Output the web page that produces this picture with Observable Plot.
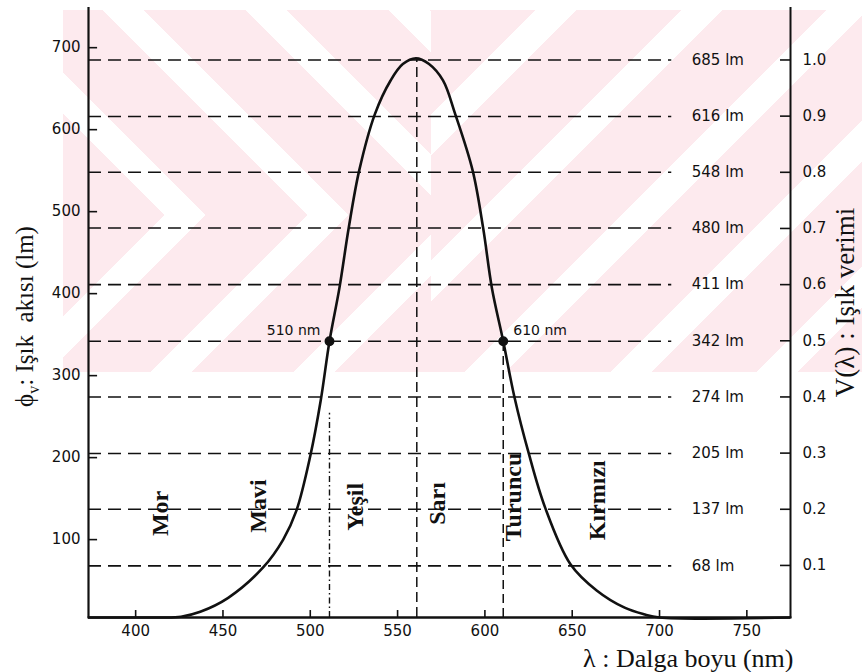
<!DOCTYPE html>
<html>
<head>
<meta charset="utf-8">
<script src="https://cdn.jsdelivr.net/npm/d3@7"></script>
<script src="https://cdn.jsdelivr.net/npm/@observablehq/plot@0.6"></script>
<style>
  body { margin: 0; background: #fff; }
  #wrap { position: relative; width: 862px; height: 672px; overflow: hidden; }
  .wm { position: absolute; }
  #chart { position: absolute; left: 0; top: 0; }
</style>
</head>
<body>
<div id="wrap">
  <div class="wm" style="left:63px;top:10px;width:368px;height:205px;background:repeating-linear-gradient(45deg,#fdeaee 0 72px,#ffffff 72px 101px);"></div>
  <div class="wm" style="left:63px;top:215px;width:368px;height:157px;background:repeating-linear-gradient(135deg,#fdeaee 0 72px,#ffffff 72px 101px);"></div>
  <div class="wm" style="left:431px;top:10px;width:431px;height:362px;background:repeating-linear-gradient(135deg,#fdeaee 0 74px,#ffffff 74px 103px);"></div>
  <div id="chart"></div>
</div>
<script>
// ---- data ----
const wavelength = [373, 400, 415, 426, 437, 453, 473, 484.5, 492, 500, 506, 511, 516.7, 522, 528, 537, 546, 553, 560.5, 568, 576, 583, 593, 599, 604, 610.5, 617, 625, 634.5, 649, 664, 680, 691, 700, 775];
const luminousFlux = [5, 5, 5, 6, 12, 29, 66, 100, 135, 202, 270, 342, 407, 480, 550, 619, 660, 680, 687, 680, 660, 619, 550, 480, 407, 342, 273, 206, 139, 70, 38, 17, 9, 5, 5];

const lumenLevels = [68, 137, 205, 274, 342, 411, 480, 548, 616, 685];
const efficiencyTicks = [0.1, 0.2, 0.3, 0.4, 0.5, 0.6, 0.7, 0.8, 0.9, 1.0];
const peakLumen = 685;
const wavelengthTicks = [400, 450, 500, 550, 600, 650, 700, 750];
const fluxTicks = [100, 200, 300, 400, 500, 600, 700];

const markedWavelengths = [511, 610.5];
const markedLabels = ["510 nm", "610 nm"];
const halfLumen = 342;
const peakWavelength = 561;
const greenDropTop = 254;

const colorNames = ["Mor", "Mavi", "Yeşil", "Sarı", "Turuncu", "Kırmızı"];
const colorNameWavelength = [414, 470, 526, 573, 616.5, 664.5];
const colorNameFlux = [132, 141, 140, 144, 152, 148];

const xDomain = [373, 775];
const yDomain = [5, 749];
const levelLineEnd = 707;
// tick lengths expressed in data units (≈ 7–10 px)
const yTickLen = 5.2;      // nm
const xTickLen = 8.5;      // lm

// ---- build tables ----
const curve = wavelength.map((w, i) => ({w, f: luminousFlux[i]}));
const marked = markedWavelengths.map((w, i) => ({w, f: halfLumen, label: markedLabels[i]}));
const names = colorNames.map((n, i) => ({n, w: colorNameWavelength[i], f: colorNameFlux[i]}));
const rightTicks = efficiencyTicks.map(v => v * peakLumen);

const ink = "#111";
const serif = "Liberation Serif, DejaVu Serif, serif";

const chart = Plot.plot({
  width: 862,
  height: 672,
  marginLeft: 88,
  marginRight: 72,
  marginTop: 7,
  marginBottom: 55,
  x: {domain: xDomain},
  y: {domain: yDomain},
  style: {fontFamily: "DejaVu Sans, sans-serif", fontSize: "15px", color: ink, background: "transparent"},
  marks: [
    // horizontal dashed lumen levels
    Plot.ruleY(lumenLevels, {y: d => d, x1: xDomain[0], x2: levelLineEnd, stroke: ink, strokeWidth: 1.6, strokeDasharray: "13,7"}),
    Plot.text(lumenLevels, {y: d => d, x: levelLineEnd, text: d => `${d} lm`, textAnchor: "start", dx: 20, fontSize: 15, fill: ink}),
    // vertical guide lines
    Plot.ruleX([markedWavelengths[0]], {x: d => d, y1: yDomain[0], y2: greenDropTop, stroke: ink, strokeWidth: 1.4, strokeDasharray: "6,3,1.5,3"}),
    Plot.ruleX([peakWavelength], {x: d => d, y1: yDomain[0], y2: peakLumen, stroke: ink, strokeWidth: 1.5, strokeDasharray: "10,5"}),
    Plot.ruleX([markedWavelengths[1]], {x: d => d, y1: yDomain[0], y2: halfLumen, stroke: ink, strokeWidth: 1.5, strokeDasharray: "9,5"}),
    // curve
    Plot.line(curve, {x: "w", y: "f", curve: "catmull-rom", stroke: ink, strokeWidth: 2.6}),
    // marked points
    Plot.dot(marked, {x: "w", y: "f", r: 4.2, fill: ink, stroke: ink}),
    Plot.text([marked[0]], {x: "w", y: "f", text: "label", textAnchor: "end", dx: -9, dy: -11, fontSize: 14, fill: ink}),
    Plot.text([marked[1]], {x: "w", y: "f", text: "label", textAnchor: "start", dx: 10, dy: -11, fontSize: 14, fill: ink}),
    // colour region names
    Plot.text(names, {x: "w", y: "f", text: "n", rotate: -90, fontFamily: serif, fontWeight: "bold", fontSize: 24, fill: ink}),
    // inward tick marks
    Plot.ruleY(fluxTicks, {y: d => d, x1: xDomain[0], x2: xDomain[0] + yTickLen, stroke: ink, strokeWidth: 1.6}),
    Plot.ruleY(rightTicks, {y: d => d, x1: xDomain[1] - yTickLen * 1.1, x2: xDomain[1], stroke: ink, strokeWidth: 1.6}),
    Plot.ruleX(wavelengthTicks, {x: d => d, y1: yDomain[0], y2: yDomain[0] + xTickLen, stroke: ink, strokeWidth: 1.6}),
    // axis labels
    Plot.axisX(wavelengthTicks, {tickSize: 0, tickPadding: 8, label: null}),
    Plot.axisY(fluxTicks, {anchor: "left", tickSize: 0, tickPadding: 8, label: null}),
    Plot.axisY(rightTicks, {anchor: "right", tickSize: 0, tickPadding: 12, label: null, tickFormat: d => (d / peakLumen).toFixed(1)}),
    // frame lines
    Plot.ruleX([xDomain[0]], {stroke: ink, strokeWidth: 2.2}),
    Plot.ruleX([xDomain[1]], {stroke: ink, strokeWidth: 2}),
    Plot.ruleY([yDomain[0]], {stroke: ink, strokeWidth: 2.6}),
    // axis titles
    Plot.text(["ϕv: Işık  akısı (lm)"], {frameAnchor: "left", text: d => d, rotate: -90, textAnchor: "middle", lineAnchor: "middle", dx: -64, dy: 4, fontFamily: serif, fontSize: 25, fill: ink}),
    Plot.text(["V(λ) : Işık verimi"], {frameAnchor: "right", text: d => d, rotate: -90, textAnchor: "middle", lineAnchor: "middle", dx: 55, dy: -10, fontFamily: serif, fontSize: 27, fill: ink}),
    Plot.text(["λ : Dalga boyu (nm)"], {frameAnchor: "bottom-right", text: d => d, textAnchor: "end", lineAnchor: "middle", dx: 3, dy: 41, fontFamily: serif, fontSize: 26, fill: ink})
  ]
});

// subscript v in the left title
const phiText = [...chart.querySelectorAll("text")].find(e => e.textContent.startsWith("ϕv"));
if (phiText) {
  const ns = "http://www.w3.org/2000/svg";
  phiText.textContent = "";
  const a = document.createElementNS(ns, "tspan"); a.textContent = "ϕ";
  const b = document.createElementNS(ns, "tspan"); b.textContent = "v"; b.setAttribute("dy", "6"); b.setAttribute("font-size", "16");
  const c = document.createElementNS(ns, "tspan"); c.textContent = ": Işık  akısı (lm)"; c.setAttribute("dy", "-6");
  phiText.append(a, b, c);
}

document.getElementById("chart").appendChild(chart);
</script>
</body>
</html>
